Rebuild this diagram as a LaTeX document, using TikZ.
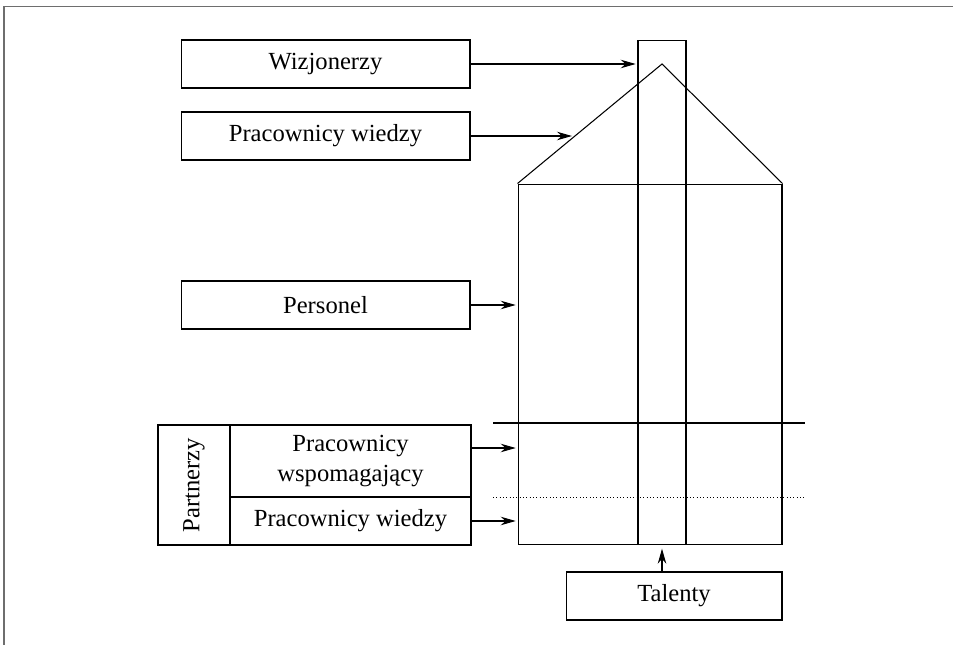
\documentclass[tikz,border=0pt]{standalone}
\usepackage{fontspec}
\setmainfont{Liberation Serif}
\usetikzlibrary{arrows.meta,positioning,calc}
\definecolor{framegray}{RGB}{110,110,110}

\begin{document}
\begin{tikzpicture}[x=0.02cm,y=-0.02cm,>={Stealth[length=0.3cm,width=0.17cm]},line width=0.6pt,
  every node/.style={align=center,font=\fontsize{14}{16.8}\selectfont,inner sep=0pt},
  rolebox/.style={draw,minimum width=5.78cm,minimum height=0.96cm},
  partbox/.style={draw,minimum width=4.82cm}]
  \useasboundingbox (0,0) rectangle (953,645);
  \draw[framegray,line width=0.8pt] (4,645) -- (4,6.5) -- (953,6.5);

  % role boxes on the left
  \node[rolebox] (wiz) at (325.5,64) {Wizjonerzy};
  \node[rolebox] (wiedza) at (325.5,136) {Pracownicy wiedzy};
  \node[rolebox] (personel) at (325.5,305) {Personel};
  \node[draw,rotate=90,minimum width=2.4cm,minimum height=1.44cm] (partnerzy) at (194,485) {Partnerzy};
  \node[partbox,minimum height=1.44cm] (wsp) at (350.5,461) {Pracownicy\\wspomagający};
  \node[partbox,minimum height=0.96cm] (pwiedzy) at (350.5,521) {Pracownicy wiedzy};
  \node[draw,minimum width=4.32cm,minimum height=0.96cm] (talenty) at (674,596) {Talenty};

  % the house
  \node[draw,minimum width=5.28cm,minimum height=7.22cm] (house) at (650,364.5) {};
  \node[draw,minimum width=0.96cm,minimum height=10.08cm] (chimney) at (662,292.7) {};
  \coordinate (apex) at (662,64);
  \draw (house.north west) -- (apex) -- (house.north east);
  \coordinate (sepL) at (493,423);
  \coordinate (sepR) at (805,423);
  \draw (sepL) -- (sepR);
  \coordinate (dotL) at (493,497);
  \coordinate (dotR) at (805,497);
  \draw[line width=0.4pt,dash pattern=on 0.5pt off 1.4pt] (dotL) -- (dotR);
  \coordinate (roofpt) at (572,136);

  \draw[->] (wiz.east) -- ([xshift=-1pt]wiz.east -| chimney.west);
  \draw[->] (wiedza.east) -- (roofpt);
  \draw[->] (personel.east) -- ([xshift=-1pt]personel.east -| house.west);
  \draw[->] ([yshift=0.26cm]wsp.east) -- ([yshift=0.26cm,xshift=-1pt]wsp.east -| house.west);
  \draw[->] (pwiedzy.east) -- ([xshift=-1pt]pwiedzy.east -| house.west);
  \draw[->,shorten >=2pt] (talenty.north -| chimney.south) -- (chimney.south);
\end{tikzpicture}
\end{document}
